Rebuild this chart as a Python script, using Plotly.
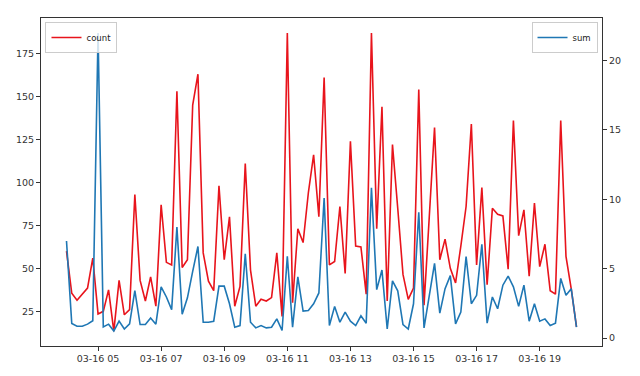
import pandas as pd
import plotly.graph_objects as go

start_time = "2020-03-16 04:00"
freq = "10min"

count = [60, 35.5, 31.5, 35, 38.5, 56, 23.5, 25, 37.5, 13.5,
         43, 23, 26, 93, 43, 31, 45, 28, 87, 53.5,
         52, 153, 50.5, 55, 145, 163, 59, 42.5, 37, 98,
         55, 80, 28, 39.5, 111, 49, 28, 32, 31, 33,
         59, 22, 187, 30, 73, 65, 94, 116, 80, 161,
         52, 54, 86, 47, 124, 63, 62.5, 35, 187, 73,
         144, 31, 122, 85, 46.5, 32, 38.5, 154, 28.5, 80,
         132, 55, 67, 50, 41.5, 63, 86, 134, 52, 97,
         40.5, 85, 81.5, 80.5, 49.5, 136, 69, 84, 45.5, 88,
         51, 64, 37, 35, 136, 57, 38, 16]

sum_ = [7.0, 1.05, 0.85, 0.85, 1.0, 1.25, 22.0, 0.8, 1.0, 0.5,
        1.22, 0.65, 1.02, 3.42, 0.97, 0.97, 1.45, 1.0, 3.69, 2.96,
        2.05, 8.0, 1.72, 2.9, 4.8, 6.6, 1.14, 1.14, 1.21, 3.74,
        3.74, 2.47, 0.78, 0.9, 6.07, 1.14, 0.73, 0.9, 0.73, 0.78,
        1.38, 0.54, 5.9, 0.78, 4.41, 1.94, 1.99, 2.47, 3.25, 10.1,
        0.9, 2.28, 1.14, 1.87, 1.21, 0.9, 1.6, 1.07, 10.84, 3.49,
        4.9, 0.65, 4.12, 3.4, 0.97, 0.65, 2.47, 9.07, 0.73, 3.08,
        5.38, 1.8, 3.56, 4.5, 1.02, 1.87, 5.87, 2.47, 3.08, 6.76,
        1.07, 2.96, 2.11, 3.81, 4.47, 3.69, 2.28, 3.81, 1.21, 2.47,
        1.21, 1.38, 0.9, 1.07, 4.3, 3.08, 3.56, 0.78]

times = pd.date_range(start_time, periods=len(count), freq=freq)

x_tick_vals = pd.date_range("2020-03-16 05:00", "2020-03-16 19:00", freq="2h")
x_tick_text = [t.strftime("%m-%d %H") for t in x_tick_vals]
count_ticks = [25, 50, 75, 100, 125, 150, 175]
sum_ticks = [0, 5, 10, 15, 20]

span = times[-1] - times[0]
pad = span * 0.05
c_lo, c_hi = min(count), max(count)
s_lo, s_hi = min(sum_), max(sum_)
c_pad = (c_hi - c_lo) * 0.05
s_pad = (s_hi - s_lo) * 0.05

fig = go.Figure()
fig.add_trace(go.Scatter(x=times, y=count, mode="lines", name="count",
                         line=dict(color="#e8141c", width=1.6), yaxis="y",
                         legend="legend"))
fig.add_trace(go.Scatter(x=times, y=sum_, mode="lines", name="sum",
                         line=dict(color="#1f77b4", width=1.6), yaxis="y2",
                         legend="legend2"))

axis_common = dict(showgrid=False, zeroline=False, showline=True, linecolor="#333",
                   linewidth=1, ticks="outside", ticklen=4, tickcolor="#333",
                   tickfont=dict(family="DejaVu Sans", size=9.5, color="#333"))

fig.update_layout(
    width=640, height=376, autosize=False,
    margin=dict(l=41, r=38, t=18, b=30),
    paper_bgcolor="white", plot_bgcolor="white",
    xaxis=dict(type="date", range=[times[0] - pad, times[-1] + pad],
               tickvals=list(x_tick_vals), ticktext=x_tick_text, mirror=True,
               **axis_common),
    yaxis=dict(range=[c_lo - c_pad, c_hi + c_pad], tickvals=count_ticks,
               mirror=True, **axis_common),
    yaxis2=dict(range=[s_lo - s_pad, s_hi + s_pad], tickvals=sum_ticks,
                overlaying="y", side="right", **axis_common),
    legend=dict(x=0.008, y=0.988, xanchor="left", yanchor="top",
                bgcolor="rgba(255,255,255,0.8)", bordercolor="#ccc", borderwidth=1,
                font=dict(family="DejaVu Sans", size=8.5, color="#222"),
                itemwidth=30, tracegroupgap=0),
    legend2=dict(x=0.992, y=0.988, xanchor="right", yanchor="top",
                 bgcolor="rgba(255,255,255,0.8)", bordercolor="#ccc", borderwidth=1,
                 font=dict(family="DejaVu Sans", size=8.5, color="#222"),
                 itemwidth=30, tracegroupgap=0),
    showlegend=True,
)

fig.write_html("out.html", config={"displayModeBar": False},
               post_script="document.body.style.margin='0';document.body.style.padding='0';")
